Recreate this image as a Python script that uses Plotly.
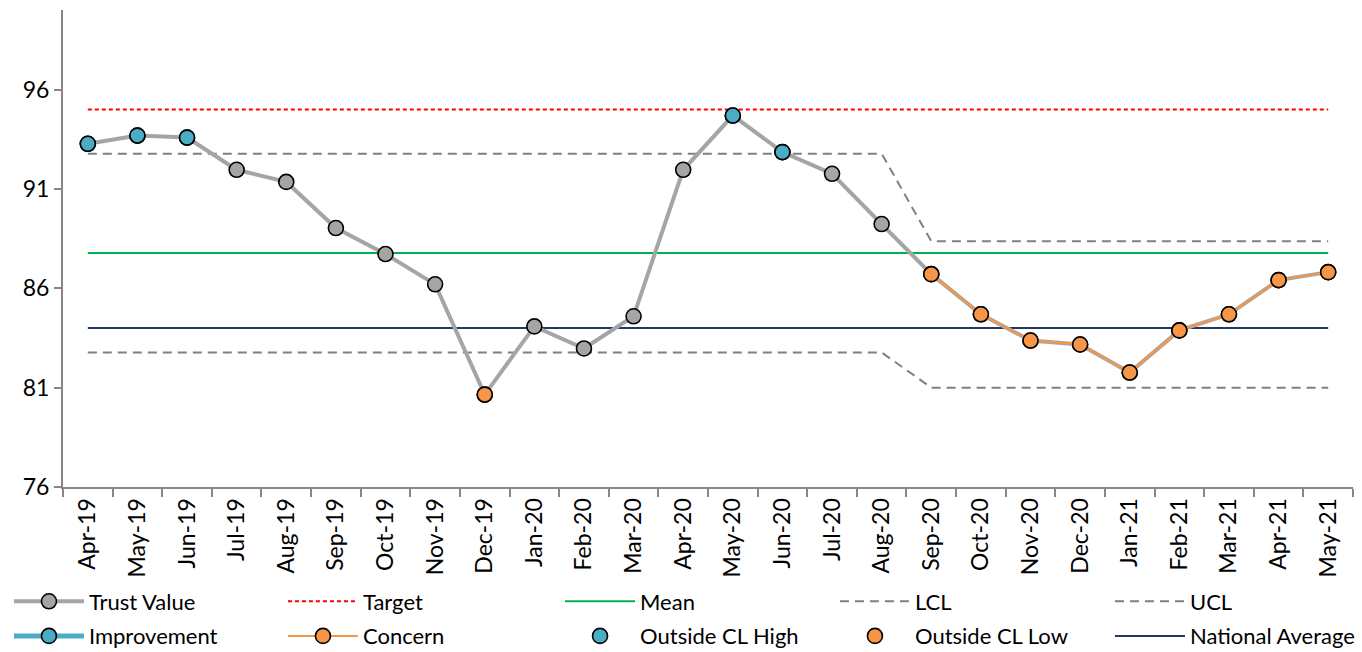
import plotly.graph_objects as go

# ---- data -------------------------------------------------------------
months = ["Apr-19", "May-19", "Jun-19", "Jul-19", "Aug-19", "Sep-19", "Oct-19",
          "Nov-19", "Dec-19", "Jan-20", "Feb-20", "Mar-20", "Apr-20", "May-20",
          "Jun-20", "Jul-20", "Aug-20", "Sep-20", "Oct-20", "Nov-20", "Dec-20",
          "Jan-21", "Feb-21", "Mar-21", "Apr-21", "May-21"]

trust_value = [93.27, 93.68, 93.58, 91.96, 91.35, 89.03, 87.72, 86.20, 80.65,
               84.08, 82.97, 84.59, 91.96, 94.69, 92.85, 91.76, 89.23, 86.71,
               84.69, 83.37, 83.17, 81.76, 83.88, 84.69, 86.41, 86.81]

target = [95.0] * len(months)
mean = [87.77] * len(months)
national_average = [84.0] * len(months)
ucl = [92.77] * 17 + [88.37] * 9
lcl = [82.77] * 17 + [81.0] * 9

improvement_months = []
concern_months = ["Sep-20", "Oct-20", "Nov-20", "Dec-20", "Jan-21", "Feb-21",
                  "Mar-21", "Apr-21", "May-21"]
outside_high_months = ["Apr-19", "May-19", "Jun-19", "May-20", "Jun-20"]
outside_low_months = ["Dec-19"]


def pick(selected):
    return [v if m in selected else None for m, v in zip(months, trust_value)]


# ---- styling ------------------------------------------------------------
FONT = "Lato, 'Open Sans', sans-serif"
GREY = "#a5a5a5"
TEAL = "#4bacc6"
ORANGE = "#f79646"
MARKER = dict(size=15, line=dict(color="#000000", width=1.6))

fig = go.Figure()

# reference lines (legend columns 2-5)
fig.add_trace(go.Scatter(x=months, y=target, name="Target", mode="lines",
                         line=dict(color="#ff0000", width=2, dash="4px,3px"),
                         legend="legend2", legendgroup="a", legendrank=1))
fig.add_trace(go.Scatter(x=months, y=mean, name="Mean", mode="lines",
                         line=dict(color="#00b050", width=2),
                         legend="legend3", legendgroup="a", legendrank=1))
fig.add_trace(go.Scatter(x=months, y=lcl, name="LCL", mode="lines",
                         line=dict(color="#808080", width=2, dash="9px,6px"),
                         legend="legend4", legendgroup="a", legendrank=1))
fig.add_trace(go.Scatter(x=months, y=ucl, name="UCL", mode="lines",
                         line=dict(color="#808080", width=2, dash="9px,6px"),
                         legend="legend5", legendgroup="a", legendrank=1))
fig.add_trace(go.Scatter(x=months, y=national_average, name="National Average",
                         mode="lines", line=dict(color="#1f3864", width=2),
                         legend="legend5", legendgroup="b", legendrank=2))

# the measured series and its flagged points
fig.add_trace(go.Scatter(x=months, y=trust_value, name="Trust Value",
                         mode="lines+markers",
                         line=dict(color=GREY, width=4),
                         marker=dict(color=GREY, **MARKER),
                         legend="legend", legendgroup="a", legendrank=1))
fig.add_trace(go.Scatter(x=months, y=pick(improvement_months), name="Improvement",
                         mode="lines+markers", connectgaps=False,
                         line=dict(color=TEAL, width=5),
                         marker=dict(color=TEAL, **MARKER),
                         legend="legend", legendgroup="b", legendrank=2))
fig.add_trace(go.Scatter(x=months, y=pick(concern_months), name="Concern",
                         mode="lines+markers",
                         line=dict(color=ORANGE, width=2),
                         marker=dict(color=ORANGE, **MARKER),
                         legend="legend2", legendgroup="b", legendrank=2))
fig.add_trace(go.Scatter(x=months, y=pick(outside_high_months), name="Outside CL High",
                         mode="markers", marker=dict(color=TEAL, **MARKER),
                         legend="legend3", legendgroup="b", legendrank=2))
fig.add_trace(go.Scatter(x=months, y=pick(outside_low_months), name="Outside CL Low",
                         mode="markers", marker=dict(color=ORANGE, **MARKER),
                         legend="legend4", legendgroup="b", legendrank=2))

axis_line = dict(showline=True, linecolor="#868686", linewidth=2,
                 ticks="outside", tickcolor="#868686", tickwidth=2,
                 showgrid=False, zeroline=False,
                 tickfont=dict(family=FONT, size=23, color="#000000"))


def legend_column(x):
    return dict(orientation="v", x=x, xanchor="left", y=-0.196, yanchor="top",
                itemwidth=70, traceorder="grouped", tracegroupgap=3,
                font=dict(family=FONT, size=22, color="#000000"),
                bgcolor="rgba(0,0,0,0)", itemclick=False, itemdoubleclick=False)


fig.update_layout(
    width=1362, height=652,
    margin=dict(l=63, r=9, t=10, b=165, autoexpand=False),
    paper_bgcolor="white", plot_bgcolor="white",
    font=dict(family=FONT, size=22, color="#000000"),
    showlegend=True,
    legend=legend_column(-0.0419),
    legend2=legend_column(0.1705),
    legend3=legend_column(0.3853),
    legend4=legend_column(0.5984),
    legend5=legend_column(0.8116),
    xaxis=dict(type="category", categoryorder="array", categoryarray=months,
               range=[-0.5, len(months) - 0.5], tickson="boundaries",
               ticklen=8, tickangle=-90, **axis_line),
    yaxis=dict(range=[76, 100], tick0=76, dtick=5, ticklen=7, **axis_line),
)

fig.write_html("out.html")
